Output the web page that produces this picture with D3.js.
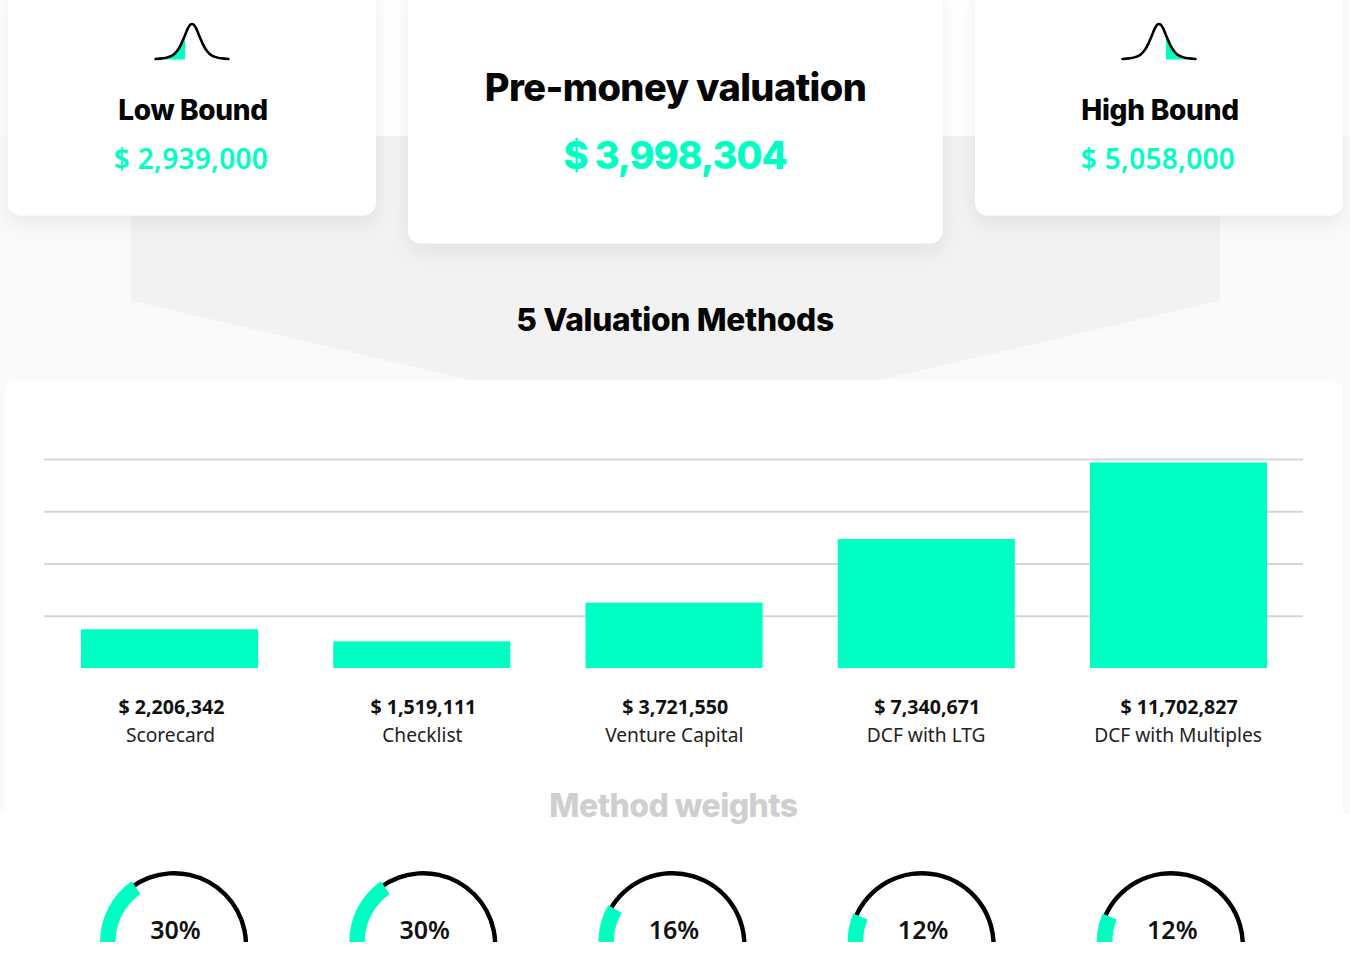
<!DOCTYPE html>
<html><head><meta charset="utf-8">
<script src="https://cdn.jsdelivr.net/npm/d3@7"></script>
<style>
html,body{margin:0;padding:0;background:#fff;overflow:hidden}
svg{display:block}
.h{font-family:Inter,sans-serif;font-weight:800}
.m{font-family:"Noto Sans",sans-serif}
</style></head><body>
<svg id="c" width="1350" height="979"></svg>
<script>
const methods=["Scorecard","Checklist","Venture Capital","DCF with LTG","DCF with Multiples"];
const methodValues=[2206342,1519111,3721550,7340671,11702827];
const gridValues=[2975000,5950000,8925000,11900000];
const weights=[30,30,16,12,12];
const lowBound=2939000, highBound=5058000, preMoney=3998304;
const bellX=[-3,-2.4,-1.9,-1.5,-1.2,-0.9,-0.6,-0.35,-0.15,0,0.15,0.35,0.6,0.9,1.2,1.5,1.9,2.4,3];
const bellY=[0,0.02,0.06,0.13,0.24,0.42,0.66,0.87,0.98,1,0.98,0.87,0.66,0.42,0.24,0.13,0.06,0.02,0];
const GREEN="#00ffc2";
const money=d=>"$ "+d3.format(",")(d);
const svg=d3.select("#c");

// background
svg.append("rect").attr("width",1350).attr("height",979).attr("fill","#fff");
svg.append("rect").attr("y",136).attr("width",1350).attr("height",678).attr("fill","#fafafa");
svg.append("path").attr("d","M131 136H1220V300.5L880 380H470L131 300.5Z").attr("fill","#f2f2f2");

const defs=svg.append("defs");
const f=defs.append("filter").attr("id","sh").attr("x","-10%").attr("y","-10%").attr("width","120%").attr("height","130%");
f.append("feDropShadow").attr("dx",0).attr("dy",8).attr("stdDeviation",10).attr("flood-color","#000").attr("flood-opacity",0.07);

// bottom card
svg.append("rect").attr("x",4).attr("y",380).attr("width",1339).attr("height",640).attr("rx",14).attr("fill","#fff");

// top cards
[[8,-14,368,229.5],[408,-14,535,257.5],[975,-14,368,229.5]].forEach(c=>{
  svg.append("rect").attr("x",c[0]).attr("y",c[1]).attr("width",c[2]).attr("height",c[3]).attr("rx",13).attr("fill","#fff").attr("filter","url(#sh)");
});

function txt(x,y,s,size,cls,weight,fill,ls){
  return svg.append("text").attr("x",x).attr("y",y).attr("text-anchor","middle").attr("class",cls)
    .attr("font-size",size).attr("font-weight",weight).attr("fill",fill).attr("letter-spacing",ls||0).text(s);
}
txt(193,120,"Low Bound",28,"h",800,"#050505",-0.35);
txt(191,169,money(lowBound),28,"m",600,GREEN,0.3);
txt(675.5,101,"Pre-money valuation",38,"h",800,"#050505",-0.6);
txt(675,169,money(preMoney),38,"h",800,GREEN,-1.1);
txt(1160,120,"High Bound",28,"h",800,"#050505",-0.25);
txt(1158,169,money(highBound),28,"m",600,GREEN,0.3);
txt(675,331,"5 Valuation Methods",31.7,"h",700,"#050505",-0.3);
txt(673.5,817,"Method weights",32,"h",800,"#cfcfcf",-0.55);

// bell icons
function bell(x0,x1,fromU,toU){
  const sx=d3.scaleLinear().domain([-3,3]).range([x0,x1]);
  const sy=d3.scaleLinear().domain([0,1]).range([59,24]);
  const pts=bellX.map((u,i)=>[u,bellY[i]]);
  const inner=pts.filter(p=>p[0]>=fromU&&p[0]<=toU);
  const yAt=u=>d3.scaleLinear().domain(bellX).range(bellY)(u);
  const edge=[[fromU,yAt(fromU)],...inner.filter(p=>p[0]!==fromU&&p[0]!==toU),[toU,yAt(toU)]];
  svg.append("path").attr("fill",GREEN)
    .attr("d",d3.area().x(p=>sx(p[0])).y0(sy(-0.015)).y1(p=>sy(p[1])).curve(d3.curveMonotoneX)(edge));
  svg.append("path").attr("fill","none").attr("stroke","#000").attr("stroke-width",2.6).attr("stroke-linecap","round")
    .attr("d",d3.line().x(p=>sx(p[0])).y(p=>sy(p[1])).curve(d3.curveMonotoneX)(pts));
}
bell(155.5,228.5,-3,-0.57);
bell(1122.5,1195.5,0.57,3);

// bar chart
const x=d3.scaleBand().domain(methods).range([43.4,1304.65]).paddingInner(0.298).paddingOuter(0.149);
const labelX=d3.scaleBand().domain(methods).range([44.55,1304]);
const y=d3.scaleLinear().domain([0,11900000]).range([668,459]);
const grid=svg.append("g").attr("transform","translate(44,0)")
  .call(d3.axisRight(y).tickValues(gridValues).tickSize(1259).tickFormat(""));
grid.select(".domain").remove();
grid.selectAll("line").attr("stroke","#d6d6d6").attr("stroke-width",1.8);
svg.selectAll(".bar").data(methods).join("rect").attr("class","bar")
  .attr("x",d=>x(d)).attr("width",x.bandwidth())
  .attr("y",(d,i)=>y(methodValues[i])).attr("height",(d,i)=>y(0)-y(methodValues[i])).attr("fill",GREEN);
methods.forEach((d,i)=>{
  const cx=labelX(d)+labelX.bandwidth()/2;
  txt(cx+1,714,money(methodValues[i]),19.6,"m",700,"#111",0);
  txt(cx,742,d,19.2,"m",400,"#222",0);
});

// gauges
const gx=d3.scaleBand().domain(d3.range(weights.length)).range([49.6,1295.6]);
const ang=d3.scaleLinear().domain([0,100]).range([-89*Math.PI/180,91*Math.PI/180]);
defs.append("clipPath").attr("id","gc").append("rect").attr("x",0).attr("y",800).attr("width",1350).attr("height",142);
const gs=svg.append("g").attr("clip-path","url(#gc)");
weights.forEach((w,i)=>{
  const cx=gx(i)+gx.bandwidth()/2;
  const gb=gs.append("g").attr("transform",`translate(${cx},945)`);
  gb.append("path").attr("fill","#000").attr("d",d3.arc().innerRadius(69.6).outerRadius(74).startAngle(ang(w)-0.03).endAngle(1.65)());
  const gg=gs.append("g").attr("transform",`translate(${cx},942)`);
  gg.append("path").attr("fill",GREEN).attr("d",d3.arc().innerRadius(58.7).outerRadius(74.2).startAngle(-Math.PI/2).endAngle(ang(w))());
  txt(cx+1.3,939,w+"%",25,"m",600,"#111",0);
});
</script></body></html>
